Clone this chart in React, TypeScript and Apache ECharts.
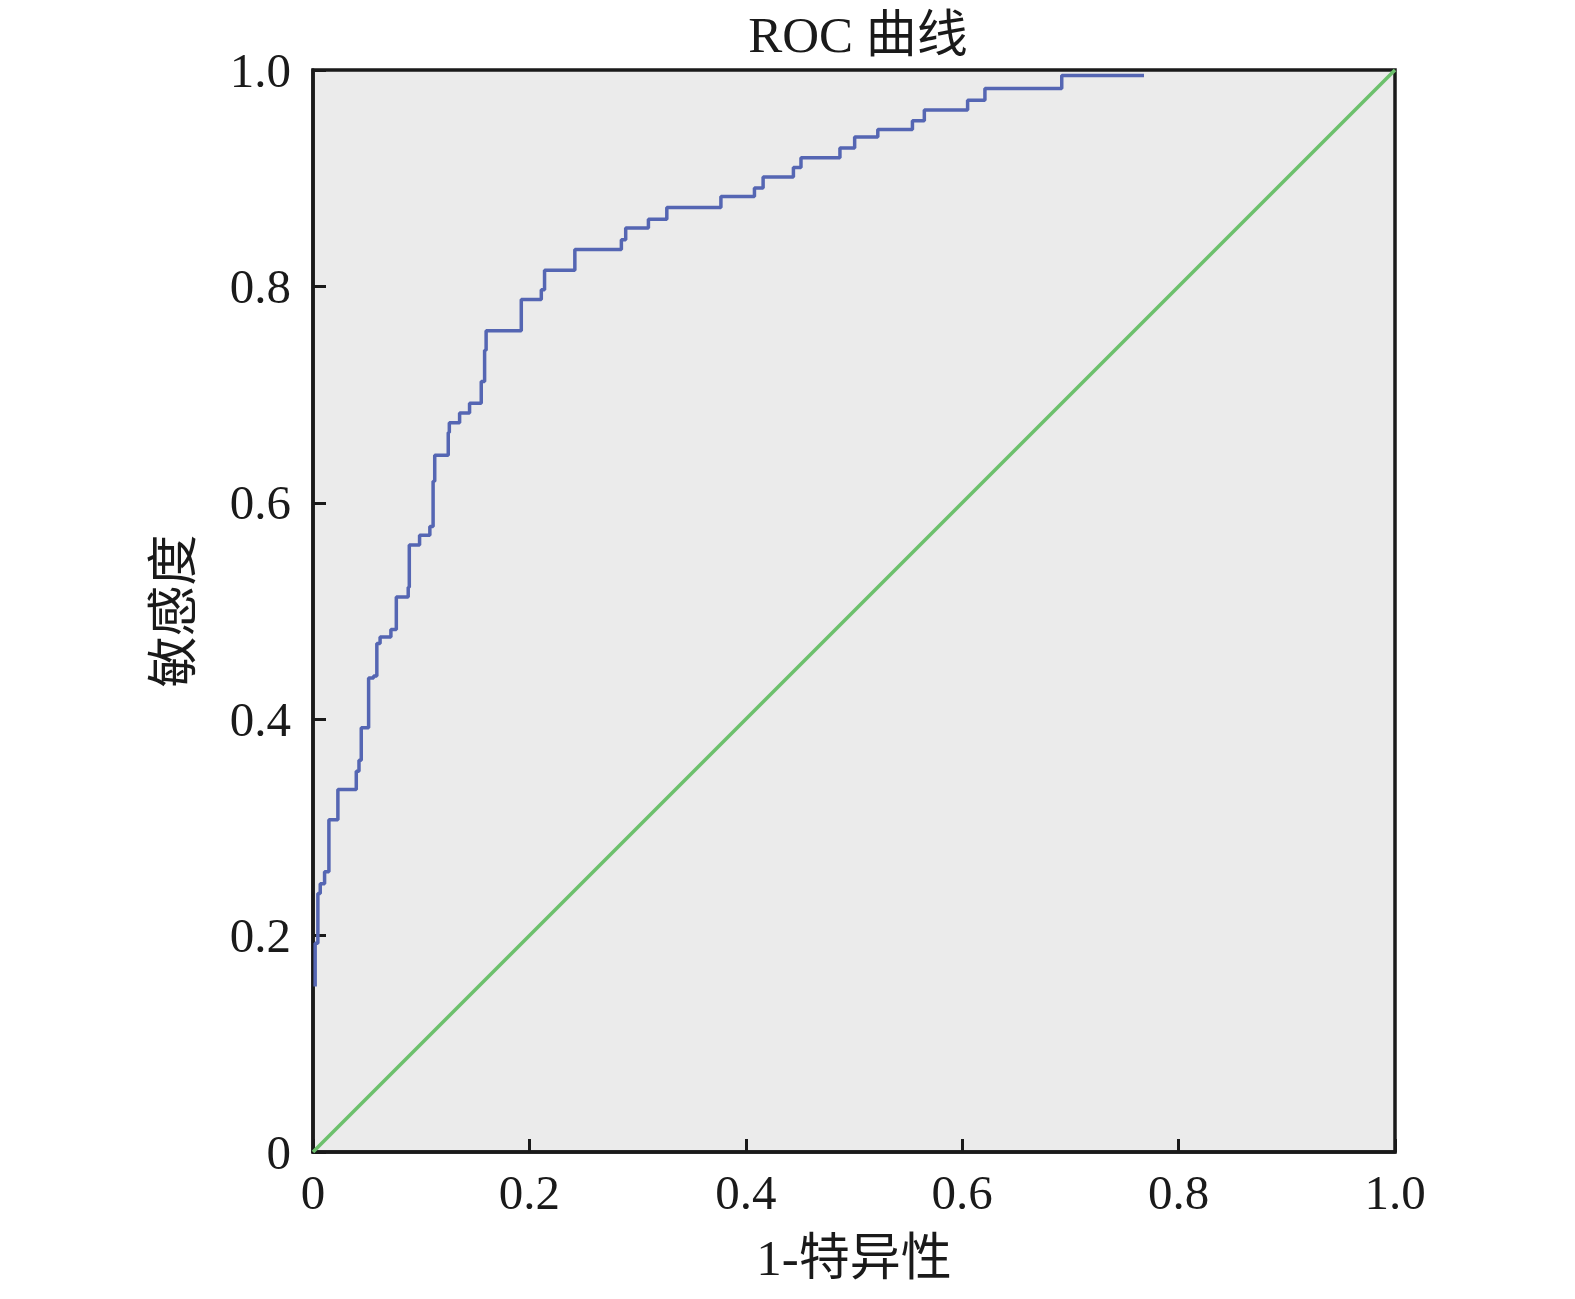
import React, { useEffect, useRef } from "react";
import * as echarts from "echarts";

// ROC curve: each point is the left end of a horizontal step (FPR, sensitivity)
const fpr = [
  0.002, 0.002, 0.0045, 0.0067, 0.0107, 0.0147, 0.023, 0.04, 0.0425, 0.0446,
  0.0514, 0.056, 0.059, 0.062, 0.072, 0.077, 0.088, 0.089, 0.0985, 0.108,
  0.111, 0.1125, 0.125, 0.126, 0.1355, 0.1447, 0.1555, 0.1586, 0.16, 0.1925,
  0.211, 0.214, 0.242, 0.285, 0.289, 0.31, 0.327, 0.377, 0.408, 0.416,
  0.444, 0.451, 0.487, 0.5006, 0.522, 0.554, 0.565, 0.605, 0.621, 0.692,
  0.768,
];
const tpr = [
  0.153, 0.193, 0.239, 0.248, 0.259, 0.307, 0.335, 0.352, 0.362, 0.392,
  0.438, 0.44, 0.47, 0.476, 0.483, 0.513, 0.522, 0.561, 0.57, 0.578,
  0.62, 0.644, 0.665, 0.674, 0.683, 0.692, 0.712, 0.741, 0.759, 0.788,
  0.797, 0.815, 0.834, 0.843, 0.854, 0.862, 0.873, 0.883, 0.891, 0.901,
  0.91, 0.919, 0.928, 0.938, 0.945, 0.953, 0.963, 0.972, 0.983, 0.995,
  0.995,
];
const refX = [0, 1];
const refY = [0, 1];

const titleText = "ROC 曲线";
const xName = "1-特异性";
const yName = "敏感度";
const tickVals = [0, 0.2, 0.4, 0.6, 0.8, 1.0];

const fmt = (v: number) => (v === 0 ? "0" : v.toFixed(1));
const FONT = "'Liberation Serif', 'Noto Sans CJK SC', serif";

export default function App() {
  const ref = useRef<HTMLDivElement>(null);
  useEffect(() => {
    if (!ref.current) return;
    const chart = echarts.init(ref.current, undefined, { renderer: "svg" });
    const axisCommon = {
      type: "value" as const,
      min: tickVals[0],
      max: tickVals[tickVals.length - 1],
      interval: 0.2,
      nameLocation: "middle" as const,
      nameTextStyle: { fontFamily: FONT, fontSize: 51, color: "#1a1a1a" },
      axisLine: { show: true, lineStyle: { color: "#1a1a1a", width: 3.5 } },
      axisTick: { show: true, inside: true, length: 13, lineStyle: { color: "#1a1a1a", width: 3 } },
      axisLabel: {
        fontFamily: FONT,
        fontSize: 49,
        color: "#1a1a1a",
        formatter: fmt,
      },
      splitLine: { show: false },
    };
    chart.setOption({
      animation: false,
      backgroundColor: "#ffffff",
      title: {
        text: titleText,
        left: 853,
        textAlign: "center",
        top: 4,
        textStyle: { fontFamily: FONT, fontSize: 51, fontWeight: "normal", color: "#1a1a1a" },
      },
      grid: {
        left: 313,
        top: 70,
        width: 1082,
        height: 1082,
        show: true,
        backgroundColor: "#ebebeb",
        borderColor: "#1a1a1a",
        borderWidth: 3.5,
      },
      xAxis: {
        ...axisCommon,
        name: xName,
        nameGap: 80,
        axisLabel: { ...axisCommon.axisLabel, margin: 16 },
      },
      yAxis: {
        ...axisCommon,
        name: yName,
        nameGap: 114,
        nameRotate: 90,
        axisLabel: { ...axisCommon.axisLabel, margin: 22 },
      },
      series: [
        {
          type: "line",
          data: refX.map((x, i) => [x, refY[i]]),
          showSymbol: false,
          lineStyle: { color: "#6cc06c", width: 3.5 },
          silent: true,
        },
        {
          type: "line",
          step: "end",
          data: fpr.map((x, i) => [x, tpr[i]]),
          showSymbol: false,
          lineStyle: { color: "#5566b3", width: 3.5 },
          silent: true,
        },
      ],
    });
    return () => chart.dispose();
  }, []);
  return (
    <div
      ref={ref}
      style={{ position: "fixed", left: 0, top: 0, width: 1575, height: 1299 }}
    />
  );
}
